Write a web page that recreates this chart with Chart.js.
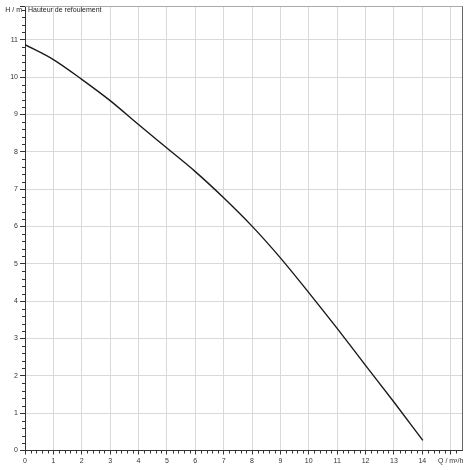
<!DOCTYPE html>
<html>
<head>
<meta charset="utf-8">
<script src="https://cdn.jsdelivr.net/npm/chart.js@4"></script>
<style>
  html, body { margin: 0; padding: 0; background: #fff; }
  #wrap { width: 470px; height: 470px; }
</style>
</head>
<body>
<div id="wrap"><canvas id="c" width="470" height="470"></canvas></div>
<script>
// Data
const flowQ = [0, 1, 2, 3, 4, 5, 6, 7, 8, 9, 10, 11, 12, 13, 14.02];
const headH = [10.87, 10.47, 9.94, 9.37, 8.73, 8.10, 7.47, 6.77, 6.01, 5.16, 4.23, 3.27, 2.28, 1.30, 0.27];
const xMax = 15.4;
const yMax = 11.9;
const xAxisTitle = 'Q / m³/h';
const yAxisTitle = 'H / m';
const curveLabel = 'Hauteur de refoulement';

const FONT = '"Liberation Sans", Arial, sans-serif';
const isInt = v => Math.abs(v - Math.round(v)) < 1e-6;

const minorTicks = {
  id: 'minorTicks',
  afterDraw(chart) {
    const ctx = chart.ctx;
    const xs = chart.scales.x, ys = chart.scales.y;
    const ca = chart.chartArea;
    ctx.save();
    ctx.lineWidth = 1;
    // top and right frame
    ctx.strokeStyle = '#aaa';
    ctx.beginPath();
    ctx.moveTo(ca.left, Math.round(ca.top) + 0.5);
    ctx.lineTo(ca.right, Math.round(ca.top) + 0.5);
    ctx.stroke();
    ctx.strokeStyle = '#666';
    ctx.beginPath();
    ctx.moveTo(Math.round(ca.right) + 0.5, ca.top);
    ctx.lineTo(Math.round(ca.right) + 0.5, ca.bottom);
    ctx.stroke();
    // minor ticks
    ctx.strokeStyle = '#333';
    ctx.beginPath();
    for (let i = 1; i / 5 < xMax; i++) {
      if (i % 5 === 0) continue;
      const px = Math.round(xs.getPixelForValue(i / 5)) + 0.5;
      ctx.moveTo(px, ca.bottom);
      ctx.lineTo(px, ca.bottom + 3);
    }
    for (let i = 1; i / 5 < yMax; i++) {
      if (i % 5 === 0) continue;
      const py = Math.round(ys.getPixelForValue(i / 5)) + 0.5;
      ctx.moveTo(ca.left - 3, py);
      ctx.lineTo(ca.left, py);
    }
    ctx.stroke();
    ctx.fillStyle = '#222';
    ctx.font = '7px ' + FONT;
    ctx.textBaseline = 'middle';
    ctx.textAlign = 'right';
    ctx.fillText(yAxisTitle, ca.left - 3, ca.top + 4);
    ctx.textAlign = 'left';
    ctx.fillText(curveLabel, ca.left + 3, ca.top + 4);
    ctx.restore();
  }
};

new Chart(document.getElementById('c'), {
  type: 'scatter',
  data: {
    datasets: [{
      data: flowQ.map((q, i) => ({ x: q, y: headH[i] })),
      showLine: true,
      borderColor: '#1a1a1a',
      borderWidth: 1.4,
      pointRadius: 0,
      cubicInterpolationMode: 'monotone',
      fill: false
    }]
  },
  options: {
    responsive: false,
    animation: false,
    devicePixelRatio: 1,
    layout: { padding: { top: 3, right: 8, left: 0, bottom: 0 } },
    plugins: { legend: { display: false }, tooltip: { enabled: false } },
    scales: {
      x: {
        type: 'linear',
        min: 0,
        max: xMax,
        afterFit(s) { s.height = 19.5; },
        border: { display: true, color: '#333', width: 1 },
        grid: {
          color: '#d9d9d9',
          lineWidth: 1,
          tickColor: '#333',
          tickLength: 4
        },
        ticks: {
          stepSize: 1,
          includeBounds: false,
          autoSkip: false,
          maxRotation: 0,
          padding: 2,
          color: '#333',
          font: { size: 7, family: FONT },
          callback: v => (Math.abs(v - 15) < 1e-6 ? xAxisTitle : (isInt(v) ? String(Math.round(v)) : ''))
        }
      },
      y: {
        type: 'linear',
        min: 0,
        max: yMax,
        afterFit(s) { s.width = 25; },
        border: { display: true, color: '#333', width: 1 },
        grid: {
          color: c => (c.tick && Math.abs(c.tick.value - yMax) < 1e-6) ? '#aaa' : '#d9d9d9',
          lineWidth: 1,
          tickColor: '#333',
          tickLength: 5
        },
        ticks: {
          stepSize: 1,
          autoSkip: false,
          padding: 2,
          color: '#333',
          font: { size: 7, family: FONT },
          callback: v => (isInt(v) ? String(Math.round(v)) : '')
        }
      }
    }
  },
  plugins: [minorTicks]
});
</script>
</body>
</html>
